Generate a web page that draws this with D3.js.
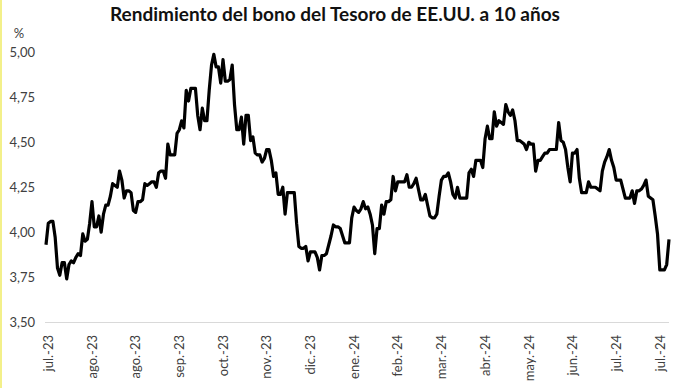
<!DOCTYPE html>
<html>
<head>
<meta charset="utf-8">
<script src="https://cdn.jsdelivr.net/npm/d3@7"></script>
<style>
  body { margin: 0; background: #fff; }
  text { font-family: Lato, "Open Sans", sans-serif; }
</style>
</head>
<body>
<div id="chart"></div>
<script>
"use strict";

const chartTitle = "Rendimiento del bono del Tesoro de EE.UU. a 10 años";

// daily 10y yield, business days from jul-2023 to early aug-2024
const yields = [
  3.93, 4.05, 4.06, 4.06, 3.97, 3.80, 3.76, 3.83, 3.83, 3.74,
  3.82, 3.84, 3.83, 3.86, 3.88, 3.87, 3.99, 3.95, 3.96, 4.05,
  4.17, 4.03, 4.03, 4.09, 4.00, 4.10, 4.15, 4.15, 4.20, 4.27,
  4.26, 4.25, 4.34, 4.29, 4.19, 4.23, 4.23, 4.22, 4.12, 4.11,
  4.17, 4.17, 4.18, 4.27, 4.26, 4.27, 4.28, 4.28, 4.25, 4.33,
  4.34, 4.34, 4.30, 4.49, 4.43, 4.43, 4.43, 4.55, 4.57, 4.62,
  4.58, 4.79, 4.73, 4.80, 4.80, 4.80, 4.65, 4.57, 4.69, 4.62,
  4.62, 4.79, 4.93, 4.99, 4.92, 4.92, 4.83, 4.96, 4.84, 4.84,
  4.85, 4.93, 4.71, 4.57, 4.57, 4.64, 4.49, 4.65,
  4.65, 4.51, 4.53, 4.44, 4.43, 4.43, 4.39, 4.41, 4.46, 4.46, 4.40,
  4.31, 4.33, 4.21, 4.21, 4.25, 4.10, 4.22, 4.22, 4.22, 4.22,
  4.05, 3.92, 3.91, 3.91, 3.92, 3.84, 3.89, 3.89, 3.89, 3.86,
  3.79, 3.87, 3.87, 3.88, 3.93, 3.98, 4.04, 4.03, 4.03, 4.02,
  3.98, 3.94, 3.94, 3.94, 4.08, 4.14, 4.12, 4.11, 4.13, 4.17,
  4.13, 4.14, 4.10, 4.04, 3.88, 4.02, 4.02, 4.15, 4.10, 4.17,
  4.17, 4.18, 4.31, 4.23, 4.28, 4.28, 4.28, 4.28, 4.32, 4.25,
  4.25, 4.27, 4.30, 4.24, 4.18, 4.18, 4.21, 4.15, 4.09, 4.08,
  4.08, 4.10, 4.20, 4.29, 4.31, 4.31, 4.33, 4.28, 4.21, 4.19,
  4.25, 4.19, 4.19, 4.19, 4.19, 4.33, 4.35, 4.31, 4.40, 4.40,
  4.40, 4.36, 4.52, 4.59, 4.52, 4.52, 4.67, 4.59, 4.62, 4.61,
  4.60, 4.71, 4.67, 4.65, 4.68, 4.62, 4.51, 4.51, 4.50,
  4.49, 4.46, 4.50, 4.49, 4.49, 4.34, 4.40, 4.40, 4.42, 4.44,
  4.44, 4.46, 4.46, 4.46, 4.46, 4.61, 4.51, 4.50, 4.46, 4.36,
  4.28, 4.44, 4.44, 4.46, 4.30, 4.22, 4.22, 4.22, 4.28, 4.25,
  4.25, 4.25, 4.24, 4.23, 4.34, 4.39, 4.42, 4.46, 4.40, 4.36,
  4.29, 4.29, 4.29, 4.24, 4.19, 4.19, 4.19, 4.23, 4.16, 4.23,
  4.23, 4.24, 4.26, 4.29, 4.20, 4.19, 4.18, 4.09, 3.99, 3.79,
  3.79, 3.79, 3.82, 3.96,
];

// category labels, one every 19 points
const xLabels = [
  "jul.-23", "ago.-23", "ago.-23", "sep.-23", "oct.-23", "nov.-23", "dic.-23",
  "ene.-24", "feb.-24", "mar.-24", "abr.-24", "may.-24", "jun.-24", "jul.-24", "jul.-24",
];
const labelStep = 19;

const yTicks = [3.5, 3.75, 4, 4.25, 4.5, 4.75, 5];

const w = 676;
const h = 388;
const plot = { left: 46, right: 669, top: 52.5, bottom: 322 };

const svg = d3.select("#chart").append("svg").attr("width", w).attr("height", h);

// thin yellow edge on the left of the original picture
svg.append("rect").attr("x", 0).attr("y", 0).attr("width", 2).attr("height", h).attr("fill", "#f3f08a");

const x = d3.scaleLinear().domain([0, yields.length - 1]).range([plot.left, plot.right]);
const y = d3.scaleLinear().domain([3.5, 5]).range([plot.bottom, plot.top]);

const fmt = (d) => d3.format(".2f")(d).replace(".", ",");

// title
svg
  .append("text")
  .attr("x", 335)
  .attr("y", 21)
  .attr("text-anchor", "middle")
  .attr("font-size", 19)
  .attr("font-weight", "bold")
  .attr("fill", "#111")
  .text(chartTitle);

// unit
svg
  .append("text")
  .attr("x", 19)
  .attr("y", 38)
  .attr("text-anchor", "middle")
  .attr("font-size", 13)
  .attr("fill", "#404040")
  .text("%");

// y axis
const yAxis = svg
  .append("g")
  .attr("transform", `translate(${plot.left}, 0)`)
  .call(d3.axisLeft(y).tickValues(yTicks).tickSize(0).tickPadding(11).tickFormat(fmt));
yAxis.select(".domain").remove();
yAxis.selectAll("text").attr("font-size", 13).attr("fill", "#404040").style("font-family", "Lato");

// x axis
const xAxis = svg
  .append("g")
  .attr("transform", `translate(0, ${plot.bottom})`)
  .call(
    d3
      .axisBottom(x)
      .tickValues(xLabels.map((d, i) => i * labelStep))
      .tickSize(0)
      .tickFormat((d) => xLabels[d / labelStep])
  );
xAxis.select(".domain").attr("stroke", "#d9d9d9").attr("stroke-width", 1).attr("d", `M${plot.left - 1},0.5H${plot.right}`);
xAxis
  .selectAll("text")
  .attr("font-size", 13)
  .attr("fill", "#404040")
  .style("font-family", "Lato")
  .attr("text-anchor", "end")
  .attr("transform", "rotate(-90)")
  .attr("x", -13)
  .attr("y", 2)
  .attr("dy", "0.35em");

// line
const line = d3
  .line()
  .x((d, i) => x(i))
  .y((d) => y(d));

svg
  .append("path")
  .datum(yields)
  .attr("fill", "none")
  .attr("stroke", "#000")
  .attr("stroke-width", 3.2)
  .attr("stroke-linejoin", "round")
  .attr("d", line);
</script>
</body>
</html>
